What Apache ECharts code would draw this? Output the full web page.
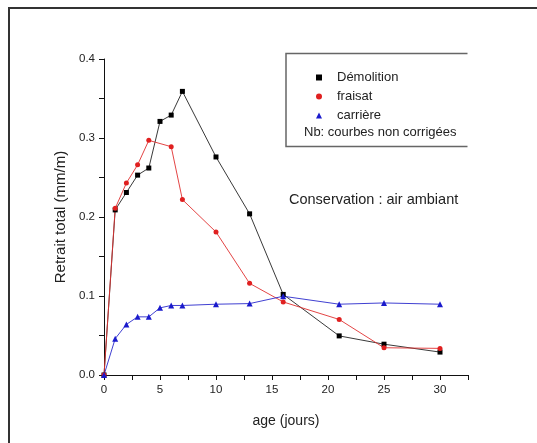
<!DOCTYPE html>
<html>
<head>
<meta charset="utf-8">
<script src="https://cdn.jsdelivr.net/npm/echarts@6/dist/echarts.min.js"></script>
<style>
html,body{margin:0;padding:0;background:#fff;}
#chart{width:537px;height:443px;}
</style>
</head>
<body>
<div id="chart"></div>
<script>
const ages = [0, 1, 2, 3, 4, 5, 6, 7, 10, 13, 16, 21, 25, 30];
const demolition = [0, 0.209, 0.231, 0.253, 0.262, 0.321, 0.329, 0.359, 0.276, 0.204, 0.102, 0.0495, 0.039, 0.029];
const fraisatAges = [0, 1, 2, 3, 4, 6, 7, 10, 13, 16, 21, 25, 30];
const fraisat = [0, 0.211, 0.243, 0.266, 0.297, 0.289, 0.222, 0.181, 0.116, 0.0925, 0.0703, 0.0345, 0.0337];
const carriere = [0, 0.046, 0.064, 0.0736, 0.0736, 0.085, 0.088, 0.088, 0.0896, 0.0904, 0.0997, 0.0896, 0.0912, 0.0896];
const seriesNames = ['Démolition', 'fraisat', 'carrière'];
const noteText = 'Nb: courbes non corrigées';
const conditionText = 'Conservation : air ambiant';
const xAxisTitle = 'age (jours)';
const yAxisTitle = 'Retrait total (mm/m)';

const pairs = (xs, ys) => xs.map((x, i) => [x, ys[i]]);
const font = 'Arial, "Liberation Sans", sans-serif';
const chart = echarts.init(document.getElementById('chart'));
chart.setOption({
  animation: false,
  backgroundColor: '#fff',
  grid: {left: 104, top: 59, right: 69, bottom: 68},
  xAxis: {
    type: 'value', min: 0, max: 32.5, interval: 2.5,
    name: xAxisTitle, nameLocation: 'middle', nameGap: 39,
    nameTextStyle: {fontFamily: font, fontSize: 14, color: '#222'},
    axisLine: {lineStyle: {color: '#111', width: 1}},
    axisTick: {inside: false, length: 5, lineStyle: {color: '#111'}},
    axisLabel: {fontFamily: font, fontSize: 11.5, color: '#222', margin: 9,
      formatter: v => (Math.abs(v / 5 - Math.round(v / 5)) < 1e-6 ? String(v) : '')},
    splitLine: {show: false}
  },
  yAxis: {
    type: 'value', min: 0, max: 0.4, interval: 0.05,
    name: yAxisTitle, nameLocation: 'middle', nameGap: 34,
    nameTextStyle: {fontFamily: font, fontSize: 15, color: '#222'},
    axisLine: {show: true, lineStyle: {color: '#111', width: 1}},
    axisTick: {show: true, inside: false, length: 5, lineStyle: {color: '#111'}},
    axisLabel: {fontFamily: font, fontSize: 11.5, color: '#222', margin: 9,
      formatter: v => (Math.abs(v * 10 - Math.round(v * 10)) < 1e-6 ? v.toFixed(1) : '')},
    splitLine: {show: false}
  },
  legend: {
    orient: 'vertical', left: 316, top: 71, itemGap: 6, padding: 0,
    itemWidth: 6, itemHeight: 6,
    textStyle: {fontFamily: font, fontSize: 13, color: '#222', padding: [0, 0, 0, 10]},
    data: [
      {name: seriesNames[0], icon: 'rect', itemStyle: {color: '#000'}},
      {name: seriesNames[1], icon: 'circle', itemStyle: {color: '#e02020'}},
      {name: seriesNames[2], icon: 'triangle', itemStyle: {color: '#1a1acc'}}
    ]
  },
  series: [
    {name: seriesNames[0], type: 'line', data: pairs(ages, demolition),
      symbol: 'rect', symbolSize: 5, showAllSymbol: true,
      itemStyle: {color: '#000'}, lineStyle: {color: '#222', width: 0.9}},
    {name: seriesNames[1], type: 'line', data: pairs(fraisatAges, fraisat),
      symbol: 'circle', symbolSize: 5, showAllSymbol: true,
      itemStyle: {color: '#e02020'}, lineStyle: {color: '#e03030', width: 0.9}},
    {name: seriesNames[2], type: 'line', data: pairs(ages, carriere),
      symbol: 'triangle', symbolSize: 6, showAllSymbol: true,
      itemStyle: {color: '#1a1acc'}, lineStyle: {color: '#2a2acc', width: 0.9}}
  ],
  graphic: [
    {type: 'polyline', shape: {points: [[9, 443], [9, 8], [537, 8]]},
      style: {stroke: '#333', lineWidth: 2, fill: null}},
    {type: 'polyline', shape: {points: [[467.5, 53.5], [286, 53.5], [286, 146.5], [467.5, 146.5]]},
      style: {stroke: '#666', lineWidth: 1.5, fill: null}},
    {type: 'text', left: 304, top: 126,
      style: {text: noteText, font: '13px ' + font, fill: '#222'}},
    {type: 'text', left: 289, top: 192,
      style: {text: conditionText, font: '14.5px ' + font, fill: '#222'}}
  ]
});
</script>
</body>
</html>
